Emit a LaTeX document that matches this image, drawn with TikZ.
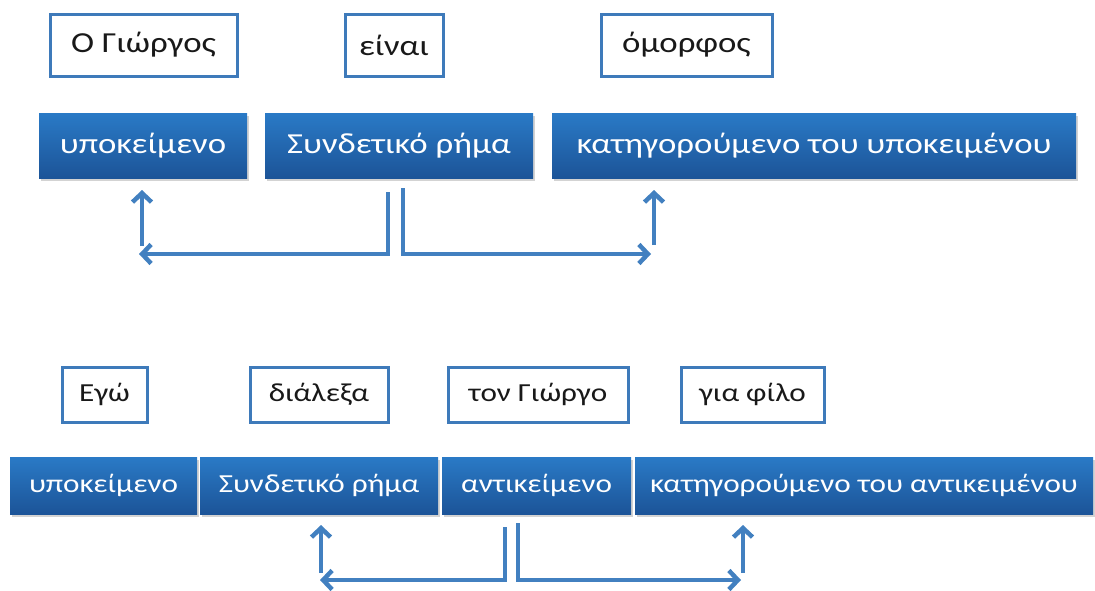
\documentclass[tikz,border=0pt]{standalone}
\usepackage{fontspec}
\setmainfont{Carlito}[FakeStretch=1.2]
\usetikzlibrary{arrows.meta,shadows}
\definecolor{bluetop}{RGB}{42,122,198}
\definecolor{bluebot}{RGB}{28,84,152}
\definecolor{wordborder}{RGB}{62,122,186}
\definecolor{arrowblue}{RGB}{66,128,192}
\definecolor{wordtext}{RGB}{25,25,25}
\tikzset{
  roleboxA/.style={rectangle, inner sep=0pt, top color=bluetop, bottom color=bluebot,
     draw=none, text=white, font=\fontsize{29}{33}\selectfont,
     drop shadow={shadow xshift=1.5pt, shadow yshift=-2.5pt, opacity=0.35}},
  roleboxB/.style={roleboxA, font=\fontsize{26}{30}\selectfont},
  wordboxA/.style={rectangle, inner sep=0pt, fill=white, draw=wordborder, line width=3pt,
     text=wordtext, font=\fontsize{29}{33}\selectfont},
  wordboxB/.style={wordboxA, font=\fontsize{26}{30}\selectfont},
  linkarrow/.style={draw=arrowblue, line width=4.5pt,
     -{Straight Barb[length=9pt,width=19pt,line width=4.5pt]}},
}
\begin{document}
\begin{tikzpicture}[x=1pt,y=-1pt]
\useasboundingbox (0,0) rectangle (1095,590);
% top sentence
\node[wordboxA, minimum width=187pt, minimum height=62pt] (w1) at (143.5,45) {Ο Γιώργος};
\node[wordboxA, minimum width=98pt, minimum height=62pt] (w2) at (394,45) {είναι};
\node[wordboxA, minimum width=171pt, minimum height=62pt] (w3) at (686.5,45) {όμορφος};
\node[roleboxA, minimum width=208pt, minimum height=65pt] (r1) at (143,145.5) {υποκείμενο};
\node[roleboxA, minimum width=268pt, minimum height=65pt] (r2) at (399,145.5) {Συνδετικό ρήμα};
\node[roleboxA, minimum width=524pt, minimum height=65pt] (r3) at (814,145.5) {κατηγορούμενο του υποκειμένου};
\coordinate (t1) at (388,192);
\coordinate (t1c) at (388,254);
\coordinate (t1e) at (139,254);
\coordinate (t2) at (142,246);
\coordinate (t2e) at (142,190);
\coordinate (t3) at (403,188);
\coordinate (t3c) at (403,254);
\coordinate (t3e) at (651,254);
\coordinate (t4) at (654,245);
\coordinate (t4e) at (654,190);
\draw[linkarrow] (t1) -- (t1c) -- (t1e);
\draw[linkarrow] (t2) -- (t2e);
\draw[linkarrow] (t3) -- (t3c) -- (t3e);
\draw[linkarrow] (t4) -- (t4e);
% bottom sentence
\node[wordboxB, minimum width=85pt, minimum height=55pt] (v1) at (104.5,394.5) {Εγώ};
\node[wordboxB, minimum width=138pt, minimum height=55pt] (v2) at (319,394.5) {διάλεξα};
\node[wordboxB, minimum width=180pt, minimum height=55pt] (v3) at (538,394.5) {τον Γιώργο};
\node[wordboxB, minimum width=143pt, minimum height=55pt] (v4) at (752.5,394.5) {για φίλο};
\node[roleboxB, minimum width=187pt, minimum height=57pt] (s1) at (103.5,485.5) {υποκείμενο};
\node[roleboxB, minimum width=238pt, minimum height=57pt] (s2) at (319,485.5) {Συνδετικό ρήμα};
\node[roleboxB, minimum width=189pt, minimum height=57pt] (s3) at (536.5,485.5) {αντικείμενο};
\node[roleboxB, minimum width=458pt, minimum height=57pt] (s4) at (864,485.5) {κατηγορούμενο του αντικειμένου};
\coordinate (b1) at (505,527);
\coordinate (b1c) at (505,580);
\coordinate (b1e) at (320,580);
\coordinate (b2) at (321,573);
\coordinate (b2e) at (321,525);
\coordinate (b3) at (518,523);
\coordinate (b3c) at (518,580);
\coordinate (b3e) at (741,580);
\coordinate (b4) at (743,573);
\coordinate (b4e) at (743,525);
\draw[linkarrow] (b1) -- (b1c) -- (b1e);
\draw[linkarrow] (b2) -- (b2e);
\draw[linkarrow] (b3) -- (b3c) -- (b3e);
\draw[linkarrow] (b4) -- (b4e);
\end{tikzpicture}
\end{document}
